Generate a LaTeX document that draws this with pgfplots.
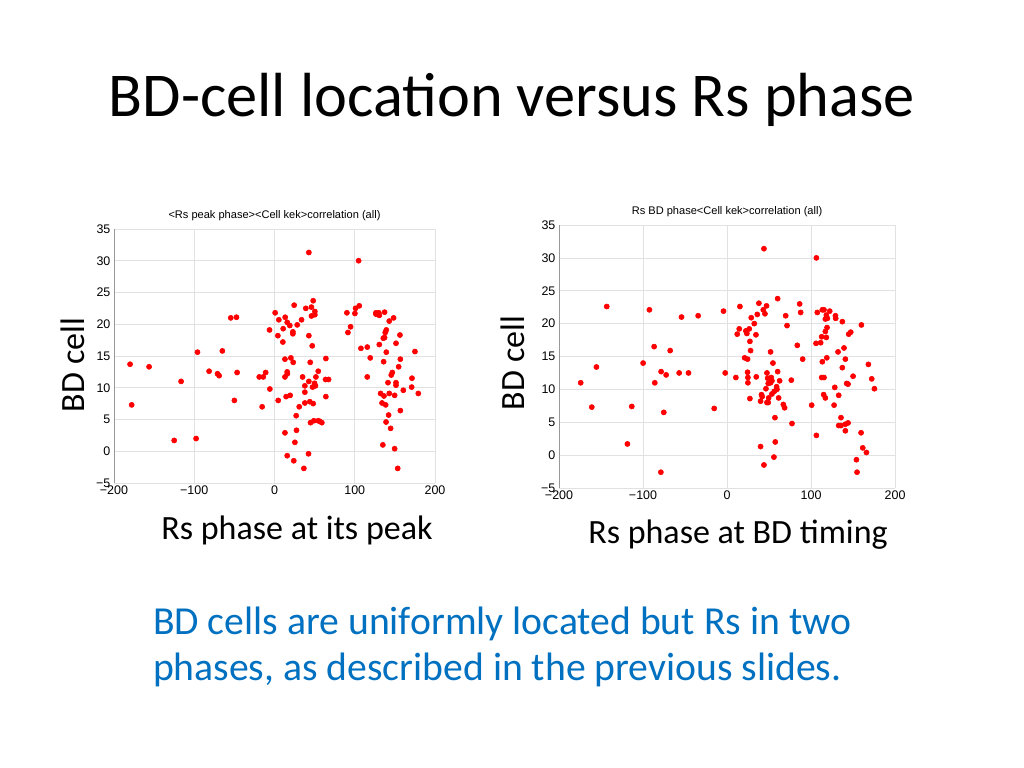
\documentclass[border=0pt]{standalone}
\usepackage{pgfplots}
\pgfplotsset{compat=1.18}
\usepackage{fontspec}
\setmainfont{Carlito}
\newfontfamily\tickfont{Liberation Sans}
\definecolor{slideblue}{RGB}{0,112,192}
\definecolor{gridgray}{RGB}{225,225,225}

\pgfplotsset{
  bdscatter/.style={
    scale only axis,
    xmin=-200, xmax=200, ymin=-5, ymax=35,
    xtick={-200,-100,0,100,200},
    xticklabels={−200,−100,0,100,200},
    ytick={-5,0,5,10,15,20,25,30,35},
    yticklabels={−5,0,5,10,15,20,25,30,35},
    grid=major,
    grid style={gridgray, line width=0.4pt},
    axis line style={draw=none},
    major tick length=0pt,
    tick label style={font=\tickfont\fontsize{8.8}{9}\selectfont, black},
    yticklabel style={xshift=1pt},
    xticklabel style={yshift=1.5pt},
    title style={font=\tickfont\fontsize{7.8}{9}\selectfont, yshift=-4pt},
    execute at end axis={
      \draw[gridgray] (rel axis cs:0,1) -- (rel axis cs:1,1) -- (rel axis cs:1,0);
      \draw[gray!80] (rel axis cs:0,1) -- (rel axis cs:0,0) -- (rel axis cs:1,0);
    },
  },
  reddot/.style={only marks, mark=*, mark size=1.8bp, color=red, mark options={draw=red, fill=red}},
}

\begin{document}
\begin{tikzpicture}[x=0.703125bp, y=0.703125bp]
\useasboundingbox (0,0) rectangle (1024,768);
\fill[white] (0,0) rectangle (1024,768);

% slide title
\node[font=\fontsize{44}{48}\selectfont] at (512,668) {BD-cell location versus Rs phase};

% left chart
\begin{axis}[bdscatter, at={(80.16bp,200.39bp)}, anchor=south west,
  width=225.7bp, height=178.6bp,
  title={<Rs peak phase><Cell kek>correlation (all)}]
\addplot[reddot] coordinates {
(-180,13.7)(-178,7.3)(-156.3,13.3)(-125,1.7)(-116.4,11.0)(-97.7,2.0)(-96,15.6)
(-81.5,12.6)(-71,12.2)(-69,11.9)(-65,15.8)(-54.5,21.0)(-47.4,21.1)(-50,8.0)
(-46.6,12.4)(-19,11.7)(-14,11.7)(-11,12.4)(-15.4,7.0)(-5.8,9.8)(-6.2,19.1)
(0.8,21.8)(4.2,18.2)(4.6,8.0)(5.4,20.7)(10.4,17.2)(10.8,19.3)(13.3,21.1)
(13,14.5)(13,11.7)(14.5,8.6)(15.8,12.5)(16,12.2)(15.8,20.3)(19,19.8)(19.5,8.8)
(20.4,14.7)(22.9,18.8)(22.9,18.5)(23.3,14.0)(24.5,23.0)(13,2.9)(15.8,-0.7)
(24,-1.5)(25.4,1.4)(27,5.6)(27.4,3.3)(28.3,19.9)(30.8,7.0)(33.7,20.7)(35,11.7)
(36.6,-2.7)(37.8,10.3)(37.8,9.3)(37.8,7.6)(39,22.5)(42.4,-0.4)(42.8,31.3)
(42.8,18.2)(42.8,11.0)(44,7.8)(44.5,14.0)(44.9,4.5)(46,22.7)(46,21.3)(47,16.6)
(47.4,10.1)(48.2,23.7)(48.2,7.5)(49,4.8)(49.9,10.7)(50.3,22.0)(50.3,21.5)
(51.6,11.7)(51,10.3)(54.5,12.6)(54.5,4.8)(56.5,4.7)(59,4.5)(64,14.6)(63.6,11.3)
(67.4,11.3)(64,8.6)(90.2,21.8)(91.5,18.7)(94.8,19.6)(100.2,21.7)(101,22.5)
(105.6,22.9)(104.8,30.0)(107.7,16.2)(115.6,16.4)(115.6,11.7)(119.3,14.7)
(126.4,21.8)(126.4,21.6)(130,21.8)(130.6,21.4)(130.6,16.8)(132.2,9.1)(134,7.6)
(135,1.0)(135.6,17.8)(136,14.1)(136.4,8.7)(137.2,21.9)(137.2,17.9)(138,18.7)
(139.3,19.1)(138.5,7.3)(139,4.6)(139.3,15.6)(141.4,10.8)(142.2,5.7)(143,9.1)
(143,20.5)(144.7,3.6)(145.5,12.0)(146.8,12.4)(148.4,21.0)(149.7,8.8)(149.7,0.4)
(151.4,17.0)(151.4,10.8)(151.4,10.4)(153.5,-2.7)(154.7,13.3)(156.3,18.3)
(156.8,14.5)(156.8,6.4)(160.5,9.6)(171.3,11.5)(170.9,10.1)(175,15.7)(179.2,9.1)
};
\end{axis}

% right chart
\begin{axis}[bdscatter, at={(393.05bp,196.88bp)}, anchor=south west,
  width=236.3bp, height=184.9bp,
  title={Rs BD phase<Cell kek>correlation (all)}]
\addplot[reddot] coordinates {
(-174.2,11.0)(-161,7.3)(-155.5,13.4)(-143.2,22.6)(-118.6,1.7)(-113.4,7.4)
(-99.9,14.0)(-92.4,22.1)(-86.8,16.5)(-86,11.0)(-78.8,-2.6)(-78.5,12.7)
(-75.3,6.5)(-72.5,12.2)(-67.7,15.9)(-57,12.5)(-54.2,21.0)(-45.9,12.5)
(-34.4,21.2)(-15.3,7.1)(-4.2,21.9)(-2.2,12.5)(10.5,11.8)(12.1,18.4)(14.5,19.2)
(15.3,22.6)(20.9,14.8)(22.4,18.9)(23.6,18.5)(24.4,14.6)(24.4,12.6)(24.8,11.8)
(24.8,11.0)(27.2,8.6)(26.4,19.2)(27.2,17.3)(28,15.9)(28.8,20.9)(32.4,20.0)
(34.4,18.3)(34.8,11.9)(36,21.4)(37.9,23.1)(39.9,1.3)(39.9,8.2)(41,9.2)(41.8,8.9)
(43.1,22.1)(45.1,21.5)(43.9,31.4)(43.9,-1.5)(46.3,10.1)(47,22.7)(47.5,12.5)
(47.5,8.0)(49,8.0)(48.3,11.7)(49,10.9)(49.5,8.7)(51.8,11.0)(51.8,15.7)(52.6,11.8)
(53.4,11.3)(53.4,9.3)(54.6,14.0)(56.2,9.7)(57,5.7)(57.4,2.0)(55.8,-0.3)(59,10.4)
(59.4,10.0)(60.2,23.8)(60.2,12.7)(61.4,8.7)(62.6,11.3)(67,7.7)(68.5,7.2)
(69.8,21.2)(71.4,19.7)(76.5,11.4)(77.3,4.8)(83.6,16.7)(86.4,23.0)(87.6,21.7)
(90,14.6)(100.7,7.6)(106.3,30.0)(105.9,17.0)(106.3,3.0)(107.4,21.7)(111.4,17.1)
(112.6,18.0)(112.6,11.8)(115.4,11.8)(113.4,22.1)(115.4,22.1)(113.4,14.2)
(115,9.2)(117,8.7)(117,20.7)(117,18.8)(118.2,21.3)(118.2,17.9)(118.7,14.8)
(119,19.4)(119.4,20.8)(122.2,21.9)(127.4,7.6)(128.2,10.3)(129,21.2)(129.3,20.8)
(132.1,15.7)(132.9,9.1)(132.9,4.5)(135.6,4.5)(135.6,5.7)(137.2,20.3)(137.2,13.3)
(139.2,16.3)(140.8,14.6)(140.8,3.7)(140.8,4.7)(144,4.9)(142.4,10.9)(144,10.8)
(144.8,18.4)(147.2,18.7)(150,12.0)(154,-0.7)(154.7,-2.6)(159.5,3.4)(159.9,19.8)
(161.5,1.1)(165.9,0.4)(168.2,13.8)(172.2,11.6)(175.4,10.1)
};
\end{axis}

% axis captions of the slide
\node[rotate=90, font=\fontsize{24}{28}\selectfont] at (73,403) {BD cell};
\node[rotate=90, font=\fontsize{24}{28}\selectfont] at (513,405) {BD cell};
\node[font=\fontsize{24}{28}\selectfont] at (297,238) {Rs phase at its peak};
\node[font=\fontsize{24}{28}\selectfont] at (738,233) {Rs phase at BD timing};

% comment text
\node[anchor=west, align=left, text=slideblue, font=\fontsize{28}{33}\selectfont] at (148,121)
  {BD cells are uniformly located but Rs in two\\phases, as described in the previous slides.};
\end{tikzpicture}
\end{document}
